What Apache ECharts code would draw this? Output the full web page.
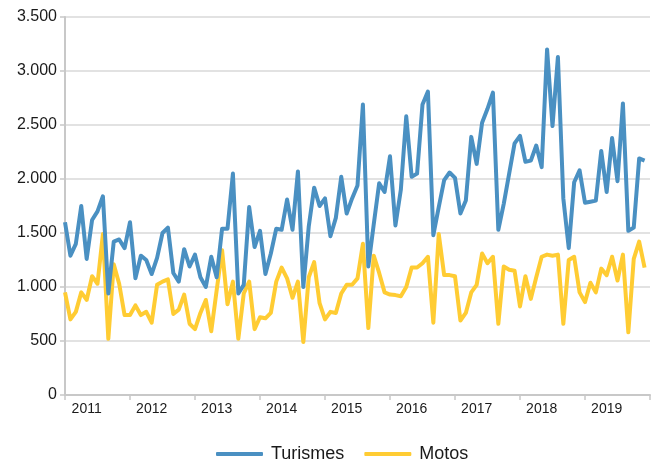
<!DOCTYPE html>
<html>
<head>
<meta charset="utf-8">
<script src="https://cdn.jsdelivr.net/npm/echarts@6/dist/echarts.min.js"></script>
<style>
  html, body { margin: 0; padding: 0; background: #fff; }
  #chart { width: 660px; height: 462px; }
</style>
</head>
<body>
<div id="chart"></div>
<script>
// monthly registrations, Jan 2011 .. Dec 2019
const years = ["2011", "2012", "2013", "2014", "2015", "2016", "2017", "2018", "2019"];
const months = ["01", "02", "03", "04", "05", "06", "07", "08", "09", "10", "11", "12"];

const turismes = [
  1600, 1290, 1400, 1750, 1260, 1620, 1700, 1840, 940, 1420, 1440, 1360,
  1600, 1080, 1290, 1250, 1120, 1270, 1500, 1550, 1130, 1050, 1350, 1190,
  1300, 1090, 1000, 1280, 1090, 1540, 1540, 2050, 940, 1020, 1740, 1370,
  1520, 1120, 1310, 1540, 1530, 1810, 1530, 2070, 1000, 1560, 1920, 1750,
  1820, 1470, 1640, 2020, 1680, 1820, 1940, 2690, 1190, 1580, 1960, 1880,
  2210, 1570, 1900, 2580, 2020, 2050, 2690, 2810, 1480, 1740, 1990, 2060,
  2010, 1680, 1800, 2390, 2140, 2520, 2650, 2800, 1530, 1770, 2050, 2330,
  2400, 2160, 2170, 2310, 2110, 3200, 2490, 3130, 1820, 1360, 1970, 2080,
  1780, 1790, 1800, 2260, 1880, 2380, 1980, 2700, 1520, 1550, 2190, 2170
];

const motos = [
  950, 700, 770, 950, 880, 1100, 1030, 1490, 520, 1210, 1030, 740,
  740, 830, 740, 770, 670, 1020, 1050, 1070, 750, 790, 930, 660,
  610, 760, 880, 590, 970, 1340, 840, 1050, 520, 940, 1050, 610,
  720, 710, 760, 1050, 1180, 1080, 900, 1050, 490, 1090, 1230, 850,
  700, 770, 760, 940, 1020, 1020, 1080, 1400, 620, 1290, 1130, 950,
  930, 925, 915, 1000, 1180, 1180, 1220, 1280, 670, 1490, 1110, 1110,
  1100, 690, 760, 950, 1020, 1310, 1220, 1280, 660, 1190, 1160, 1150,
  820, 1100, 890, 1090, 1280, 1300, 1290, 1300, 660, 1250, 1280, 950,
  860, 1040, 950, 1170, 1110, 1280, 1060, 1300, 580, 1260, 1420, 1180
];

const yTicks = { min: 0, max: 3500, step: 500 };

// one category per month, plus the closing slot at the end of the axis
const categories = [];
years.forEach((y) => months.forEach((m) => categories.push(y + "-" + m)));
categories.push("2020-01");

const fmtThousands = (v) => String(v).replace(/\B(?=(\d{3})+(?!\d))/g, ".");

const chart = echarts.init(document.getElementById("chart"));
chart.setOption({
  animation: false,
  textStyle: { fontFamily: "Liberation Sans, Arial, sans-serif" },
  grid: { left: 65, right: 10, top: 17, bottom: 67 },
  legend: {
    bottom: -6,
    left: 211,
    itemWidth: 47,
    itemHeight: 4,
    itemGap: 20,
    icon: "roundRect",
    textStyle: { fontSize: 18, color: "#1a1a1a", padding: [0, 0, 0, 3] },
    data: ["Turismes", "Motos"]
  },
  xAxis: {
    type: "category",
    boundaryGap: false,
    data: categories,
    axisLine: { lineStyle: { color: "#c8c8c8", width: 2 } },
    axisTick: {
      interval: (i) => i % 12 === 0,
      length: 5,
      lineStyle: { color: "#c8c8c8", width: 1.5 }
    },
    axisLabel: {
      interval: (i) => i % 12 === 4,
      formatter: (v) => v.slice(0, 4),
      color: "#1a1a1a",
      fontSize: 14,
      margin: 7
    },
    splitLine: { show: false }
  },
  yAxis: {
    type: "value",
    min: yTicks.min,
    max: yTicks.max,
    interval: yTicks.step,
    axisLine: { show: true, lineStyle: { color: "#c8c8c8", width: 2 } },
    axisTick: { show: true, length: 5, lineStyle: { color: "#c8c8c8", width: 1.5 } },
    axisLabel: { formatter: fmtThousands, color: "#1a1a1a", fontSize: 16, margin: 8 },
    splitLine: { lineStyle: { color: "#d9d9d9", width: 1.5 } }
  },
  series: [
    {
      name: "Turismes",
      type: "line",
      data: turismes,
      showSymbol: false,
      symbol: "none",
      itemStyle: { color: "#4a90c2" },
      lineStyle: { color: "#4a90c2", width: 4, join: "round" }
    },
    {
      name: "Motos",
      type: "line",
      data: motos,
      showSymbol: false,
      symbol: "none",
      z: 1,
      itemStyle: { color: "#ffcc33" },
      lineStyle: { color: "#ffcc33", width: 4, join: "round" }
    }
  ]
});
</script>
</body>
</html>
